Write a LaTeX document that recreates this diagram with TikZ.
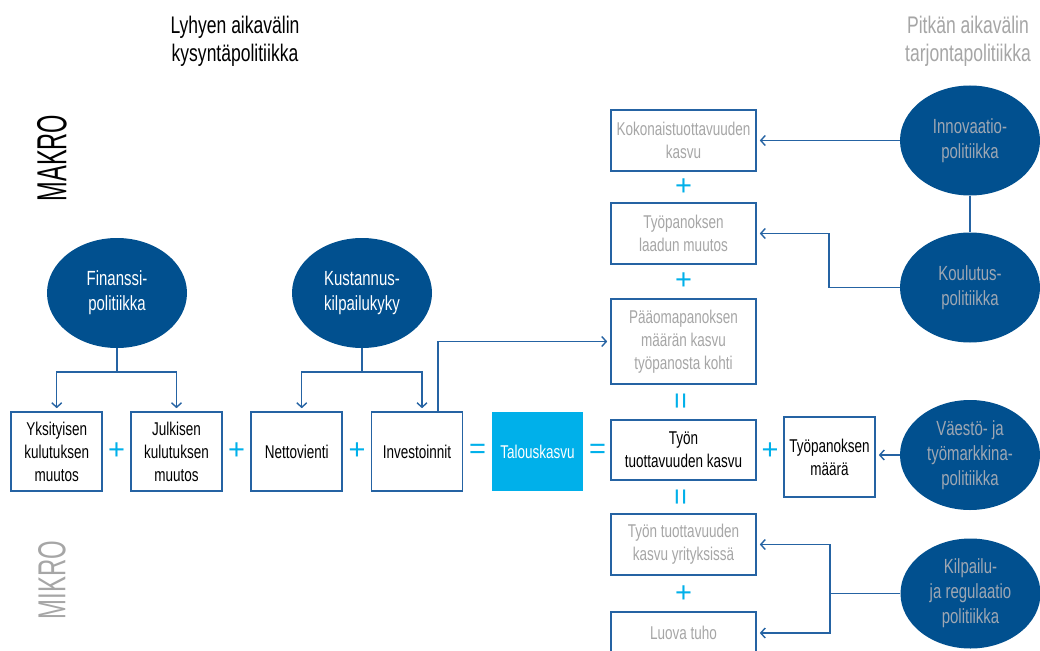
\documentclass[tikz,border=0pt]{standalone}
\usepackage{fontspec}
\setmainfont[FakeStretch=0.73]{Liberation Sans}
\newfontfamily\opfont{Liberation Sans}
\usetikzlibrary{arrows.meta,shapes.geometric}
\definecolor{dblue}{HTML}{01508F}
\definecolor{lblue}{HTML}{2563A3}
\definecolor{cyanc}{HTML}{00B0EA}
\definecolor{gtext}{HTML}{A6A6A6}
\definecolor{etext}{HTML}{9EA7B3}
\begin{document}
\begin{tikzpicture}[x=1pt,y=-1pt,
  box/.style={draw=lblue,line width=1.6pt,inner sep=0pt,align=center,
    font=\fontsize{18.5}{23}\selectfont,minimum width=91pt,minimum height=79pt},
  rbox/.style={box,minimum width=145pt,text=gtext},
  pol/.style={ellipse,fill=dblue,inner sep=0pt,minimum width=140pt,minimum height=110pt,
    align=center,font=\fontsize{20.5}{25}\selectfont,text=white},
  rpol/.style={pol,text=etext},
  op/.style={inner sep=0pt,text=cyanc,font=\opfont\fontsize{29}{29}\selectfont},
  title/.style={align=center,font=\fontsize{24}{28}\selectfont},
  conn/.style={draw=lblue,line width=1.4pt},
  arr/.style={conn,-{Straight Barb[length=4.5pt,width=10pt,line width=1.4pt]},shorten >=3pt}
]
\clip (0,0) rectangle (1040,650);
\fill[white] (0,0) rectangle (1040,650);

% titles
\node[title] (tl) at (235,41) {Lyhyen aikavälin\\kysyntäpolitiikka};
\node[title,text=gtext] (tr) at (968,41) {Pitkän aikavälin\\tarjontapolitiikka};
\node[rotate=90,inner sep=0pt,font=\fontsize{42}{42}\selectfont] (makro) at (52,158) {\scalebox{0.77}[1]{MAKRO}};
\node[rotate=90,inner sep=0pt,text=gtext,font=\fontsize{39}{39}\selectfont] (mikro) at (52,580) {\scalebox{0.84}[1]{MIKRO}};

% left row
\node[box] (yks) at (56.75,451.5) {Yksityisen\\kulutuksen\\muutos};
\node[box] (jul) at (176.5,451.5) {Julkisen\\kulutuksen\\muutos};
\node[box] (net) at (296.75,451.5) {Nettovienti};
\node[box] (inv) at (417,451.5) {Investoinnit};
\node[box,draw=none,fill=cyanc,text=white] (tal) at (537.5,451.5) {Talouskasvu};
\node[op] (p1) at (116.5,451.5) {+};
\node[op] (p2) at (236.5,451.5) {+};
\node[op] (p3) at (357,451.5) {+};
\node[op] (e1) at (477.5,451.5) {=};
\node[op] (e2) at (597.5,451.5) {=};

% right column
\node[rbox,minimum height=61pt] (koko) at (683.5,140.5) {Kokonaistuottavuuden\\kasvu};
\node[rbox,minimum height=61pt] (laa) at (683.5,233.5) {Työpanoksen\\laadun muutos};
\node[rbox,minimum height=85pt] (paa) at (683.5,341.5) {Pääomapanoksen\\määrän kasvu\\työpanosta kohti};
\node[rbox,minimum height=60pt,text=black] (tyo) at (683.5,450) {Työn\\tuottavuuden kasvu};
\node[rbox,minimum height=61pt] (tty) at (683.5,544.5) {Työn tuottavuuden\\kasvu yrityksissä};
\node[rbox,minimum height=42pt] (luo) at (683.5,633) {Luova tuho};
\node[box,minimum height=80pt] (maa) at (829.5,457) {Työpanoksen\\määrä};
\node[op] (p4) at (683.5,187) {+};
\node[op] (p5) at (683.5,281) {+};
\node[op] (p6) at (683.5,594) {+};
\node[op] (p7) at (770,451) {+};
\node[op,rotate=90] (e3) at (683.5,401.5) {=};
\node[op,rotate=90] (e4) at (683.5,497) {=};

% policies
\node[pol] (fin) at (117,293) {Finanssi-\\politiikka};
\node[pol] (kus) at (362,293) {Kustannus-\\kilpailukyky};
\node[rpol] (inn) at (970,140.5) {Innovaatio-\\politiikka};
\node[rpol] (kou) at (970,287.5) {Koulutus-\\politiikka};
\node[rpol] (vae) at (970,455) {Väestö- ja\\työmarkkina-\\politiikka};
\node[rpol] (kil) at (970.5,593.5) {Kilpailu-\\ja regulaatio\\politiikka};

% connectors left
\coordinate (fj) at (117,372);
\draw[conn] (fin.south) -- (fj);
\draw[arr] (fj) -| (yks.north);
\draw[arr] (fj) -| (jul.north);
\coordinate (kj) at (362,372);
\draw[conn] (kus.south) -- (kj);
\draw[arr] (kj) -| ([xshift=5pt]net.north);
\draw[arr] (kj) -| ([xshift=5pt]inv.north);
\draw[arr] ([xshift=21pt]inv.north) |- (paa.west);

% connectors right
\draw[arr] (inn.west) -- (koko.east);
\draw[conn] (inn.south) -- (kou.north);
\draw[arr] (kou.west) -- ++(-71,0) |- (laa.east);
\draw[arr] (vae.west) -- (vae.west -| maa.east);
\coordinate (kb) at (830,593.5);
\draw[conn] (kil.west) -- (kb);
\draw[arr] (kb) |- (tty.east);
\draw[arr] (kb) |- (luo.east);
\end{tikzpicture}
\end{document}
